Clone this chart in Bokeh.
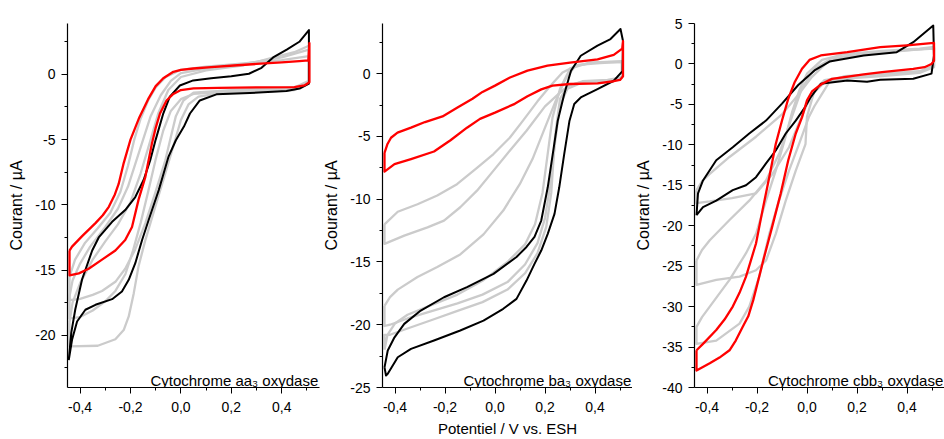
from bokeh.plotting import figure
from bokeh.layouts import row
from bokeh.models import Range1d, FixedTicker, CustomJSTickFormatter, Label
from bokeh.embed import file_html
from bokeh.resources import INLINE

FONT = "Liberation Sans"

# ---------------- shared x axis ----------------
x_ticks = [-0.4, -0.2, 0.0, 0.2, 0.4]
x_tick_labels = ["-0,4", "-0,2", "0,0", "0,2", "0,4"]
x_minor = [-0.3, -0.1, 0.1, 0.3, 0.5]
x_label = "Potentiel / V vs. ESH"
y_label = "Courant / µA"

# ---------------- panel 1 : aa3 ----------------
aa3_title = "Cytochrome aa₃ oxydase"
aa3_y_ticks = [-20, -15, -10, -5, 0]
aa3_y_labels = ["-20", "-15", "-10", "-5", "0"]
aa3_y_minor = [-22.5, -17.5, -12.5, -7.5, -2.5, 2.5]

aa3_red = [(-0.442, -13.5), (-0.432, -13.2), (-0.392, -12.4), (-0.339, -11.4), (-0.310, -10.8),
           (-0.286, -10.15), (-0.262, -9.2), (-0.247, -8.4), (-0.227, -6.8), (-0.200, -5.0),
           (-0.165, -3.3), (-0.130, -1.9), (-0.100, -0.9), (-0.070, -0.3), (-0.030, 0.2),
           (0.000, 0.35), (0.050, 0.45), (0.120, 0.55), (0.210, 0.68), (0.300, 0.8),
           (0.400, 0.92), (0.470, 1.02), (0.506, 1.07), (0.510, 2.4), (0.510, -0.6),
           (0.490, -0.85), (0.450, -0.97), (0.300, -1.0), (0.150, -1.03), (0.050, -1.08),
           (0.000, -1.2), (-0.030, -1.5), (-0.057, -2.0), (-0.083, -3.0), (-0.100, -4.1),
           (-0.115, -5.3), (-0.141, -7.85), (-0.168, -9.6), (-0.194, -11.7), (-0.221, -12.7),
           (-0.260, -13.5), (-0.313, -14.2), (-0.366, -14.9), (-0.405, -15.25), (-0.442, -15.4),
           (-0.442, -13.5)]

aa3_black = [(-0.445, -21.9), (-0.435, -19.8), (-0.419, -18.0), (-0.392, -15.7), (-0.352, -13.5),
             (-0.326, -12.5), (-0.273, -11.3), (-0.221, -10.4), (-0.181, -9.4), (-0.148, -8.1),
             (-0.122, -6.6), (-0.100, -5.0), (-0.070, -3.0), (-0.044, -1.7), (-0.004, -0.85),
             (0.049, -0.46), (0.120, -0.3), (0.200, -0.15), (0.270, 0.05), (0.320, 0.5),
             (0.366, 1.3), (0.420, 1.9), (0.470, 2.5), (0.508, 3.4), (0.508, -0.7),
             (0.471, -1.09), (0.419, -1.27), (0.273, -1.43), (0.141, -1.53), (0.075, -2.0),
             (0.036, -3.0), (0.012, -4.0), (-0.020, -5.05), (-0.049, -6.3), (-0.088, -8.87),
             (-0.128, -11.16), (-0.154, -12.69), (-0.181, -14.47), (-0.207, -15.75),
             (-0.234, -16.64), (-0.273, -17.23), (-0.339, -17.66), (-0.379, -18.04),
             (-0.412, -18.94), (-0.432, -20.34), (-0.445, -21.9)]

aa3_gray1 = [(-0.442, -15.5), (-0.420, -14.2), (-0.380, -12.9), (-0.330, -11.8), (-0.280, -10.6),
             (-0.240, -9.0), (-0.210, -7.0), (-0.185, -5.0), (-0.160, -3.4), (-0.130, -2.0),
             (-0.100, -1.0), (-0.060, -0.2), (0.000, 0.35), (0.100, 0.6), (0.250, 0.85),
             (0.400, 1.1), (0.508, 1.4), (0.508, -0.5), (0.450, -1.0), (0.200, -1.2),
             (0.050, -1.4), (0.010, -2.0), (-0.020, -3.2), (-0.040, -4.8), (-0.062, -6.6),
             (-0.102, -9.1), (-0.141, -11.4), (-0.181, -13.4), (-0.221, -14.9), (-0.260, -15.9),
             (-0.313, -16.6), (-0.350, -16.9), (-0.400, -17.2), (-0.442, -17.3), (-0.442, -15.5)]

aa3_gray2 = [(-0.442, -17.0), (-0.430, -15.8), (-0.400, -14.5), (-0.360, -13.2), (-0.300, -11.7),
             (-0.250, -10.3), (-0.210, -8.6), (-0.180, -6.8), (-0.150, -5.0), (-0.120, -3.2),
             (-0.080, -1.6), (-0.040, -0.5), (0.000, 0.1), (0.100, 0.45), (0.250, 0.8),
             (0.400, 1.3), (0.508, 1.9), (0.508, -0.6), (0.450, -1.1), (0.200, -1.3),
             (0.050, -1.5), (0.000, -1.9), (-0.040, -2.8), (-0.070, -4.3), (-0.100, -6.5),
             (-0.130, -9.0), (-0.160, -11.4), (-0.190, -13.5), (-0.220, -15.3), (-0.260, -16.6),
             (-0.300, -17.4), (-0.350, -18.1), (-0.400, -18.6), (-0.442, -18.7), (-0.442, -17.0)]

aa3_gray3 = [(-0.442, -19.0), (-0.430, -17.5), (-0.400, -16.0), (-0.350, -14.2), (-0.300, -12.8),
             (-0.250, -11.5), (-0.200, -9.8), (-0.160, -7.6), (-0.120, -5.0), (-0.090, -3.0),
             (-0.050, -1.2), (0.000, -0.2), (0.100, 0.3), (0.250, 0.7), (0.350, 1.2),
             (0.450, 1.7), (0.508, 2.2), (0.508, -0.7), (0.450, -1.2), (0.300, -1.35),
             (0.150, -1.45), (0.070, -1.7), (0.030, -2.3), (0.000, -3.5), (-0.023, -5.05),
             (-0.062, -7.6), (-0.102, -10.15), (-0.141, -12.7), (-0.168, -14.7), (-0.187, -16.77),
             (-0.207, -18.55), (-0.227, -19.6), (-0.260, -20.3), (-0.330, -20.8), (-0.442, -20.85),
             (-0.442, -19.0)]

# ---------------- panel 2 : ba3 ----------------
ba3_title = "Cytochrome ba₃ oxydase"
ba3_y_ticks = [-25, -20, -15, -10, -5, 0]
ba3_y_labels = ["-25", "-20", "-15", "-10", "-5", "0"]
ba3_y_minor = [-22.5, -17.5, -12.5, -7.5, -2.5, 2.5]

ba3_red = [(-0.442, -6.3), (-0.430, -5.6), (-0.416, -5.1), (-0.390, -4.7), (-0.336, -4.3),
           (-0.280, -3.85), (-0.210, -3.4), (-0.150, -2.7), (-0.090, -2.0), (-0.050, -1.45),
           (0.000, -0.95), (0.060, -0.3), (0.130, 0.25), (0.210, 0.64), (0.300, 0.88),
           (0.410, 1.15), (0.475, 1.5), (0.509, 2.0), (0.512, 2.6), (0.512, -0.2),
           (0.500, -0.5), (0.475, -0.6), (0.410, -0.77), (0.300, -0.82), (0.230, -0.95),
           (0.185, -1.25), (0.130, -1.8), (0.079, -2.4), (0.000, -3.1), (-0.060, -3.6),
           (-0.112, -4.3), (-0.178, -5.3), (-0.244, -6.2), (-0.336, -6.8), (-0.402, -7.2),
           (-0.442, -7.8), (-0.442, -6.3)]

ba3_black = [(-0.442, -23.4), (-0.429, -22.05), (-0.402, -21.0), (-0.363, -19.93), (-0.297, -18.87),
             (-0.204, -17.81), (-0.112, -17.0), (-0.006, -15.95), (0.086, -14.6), (0.126, -13.8),
             (0.158, -13.0), (0.185, -11.7), (0.211, -9.05), (0.231, -6.4), (0.251, -3.74),
             (0.277, -1.62), (0.304, 0.24), (0.343, 1.43), (0.410, 2.23), (0.462, 2.76),
             (0.502, 3.56), (0.512, 2.6), (0.510, 0.2), (0.475, -0.56), (0.410, -1.22),
             (0.343, -1.89), (0.317, -2.41), (0.298, -3.74), (0.277, -6.39), (0.257, -9.05),
             (0.238, -11.17), (0.211, -12.76), (0.185, -14.09), (0.158, -15.15), (0.126, -16.48),
             (0.086, -17.94), (0.033, -18.73), (-0.046, -19.67), (-0.139, -20.46), (-0.244, -21.26),
             (-0.336, -21.92), (-0.389, -22.59), (-0.429, -23.9), (-0.436, -24.04), (-0.442, -23.4)]

ba3_gray1 = [(-0.442, -12.0), (-0.389, -11.0), (-0.310, -10.4), (-0.231, -9.7), (-0.152, -8.8),
             (-0.072, -7.5), (-0.006, -6.4), (0.059, -5.1), (0.112, -3.74), (0.170, -2.2),
             (0.220, -1.0), (0.270, 0.1), (0.330, 0.7), (0.420, 0.85), (0.508, 0.95),
             (0.508, -0.3), (0.450, -0.55), (0.350, -0.65), (0.300, -0.9), (0.260, -1.5),
             (0.200, -2.6), (0.126, -4.54), (0.059, -6.13), (-0.006, -7.72), (-0.072, -9.32),
             (-0.139, -10.64), (-0.204, -11.7), (-0.270, -12.24), (-0.363, -12.9), (-0.442, -13.56),
             (-0.442, -12.0)]

ba3_gray2 = [(-0.442, -18.5), (-0.420, -17.8), (-0.389, -17.2), (-0.310, -16.2), (-0.231, -15.4),
             (-0.139, -14.4), (-0.046, -12.8), (0.033, -10.9), (0.099, -8.8), (0.150, -6.8),
             (0.200, -4.3), (0.240, -2.3), (0.280, -0.5), (0.320, 0.6), (0.400, 0.9),
             (0.508, 1.0), (0.508, -0.3), (0.450, -0.6), (0.350, -0.7), (0.290, -1.2),
             (0.260, -2.5), (0.240, -5.5), (0.220, -9.0), (0.200, -11.5), (0.170, -13.5),
             (0.120, -15.2), (0.050, -16.6), (-0.050, -17.6), (-0.150, -18.3), (-0.250, -18.9),
             (-0.350, -19.5), (-0.420, -20.0), (-0.442, -20.1), (-0.442, -18.5)]

ba3_gray3 = [(-0.442, -22.0), (-0.430, -20.8), (-0.400, -19.9), (-0.350, -19.2), (-0.250, -18.4),
             (-0.150, -17.6), (-0.050, -16.5), (0.050, -15.0), (0.120, -13.6), (0.160, -12.0),
             (0.190, -9.5), (0.210, -6.5), (0.230, -3.5), (0.260, -1.2), (0.300, 0.4),
             (0.380, 0.9), (0.508, 0.95), (0.508, -0.3), (0.450, -0.5), (0.350, -0.6),
             (0.290, -1.0), (0.260, -2.0), (0.240, -5.0), (0.225, -9.5), (0.205, -12.2),
             (0.170, -14.3), (0.120, -15.9), (0.050, -17.2), (-0.050, -18.2), (-0.150, -18.9),
             (-0.250, -19.6), (-0.350, -20.3), (-0.420, -20.8), (-0.442, -20.8), (-0.442, -22.0)]

# ---------------- panel 3 : cbb3 ----------------
cbb3_title = "Cytochrome cbb₃ oxydase"
cbb3_y_ticks = [-40, -35, -30, -25, -20, -15, -10, -5, 0, 5]
cbb3_y_labels = ["-40", "-35", "-30", "-25", "-20", "-15", "-10", "-5", "0", "5"]
cbb3_y_minor = [-37.5, -32.5, -27.5, -22.5, -17.5, -12.5, -7.5, -2.5, 2.5]

cbb3_red = [(-0.442, -35.4), (-0.416, -34.6), (-0.363, -32.9), (-0.330, -31.6), (-0.297, -30.0),
            (-0.270, -28.3), (-0.244, -26.3), (-0.204, -22.2), (-0.178, -18.1), (-0.151, -14.0),
            (-0.125, -9.9), (-0.100, -7.0), (-0.075, -4.3), (-0.050, -2.3), (-0.020, -0.6),
            (0.010, 0.5), (0.055, 1.05), (0.161, 1.46), (0.293, 2.07), (0.400, 2.3),
            (0.508, 2.6), (0.508, 0.4), (0.498, 0.0), (0.470, -0.4), (0.425, -0.6),
            (0.300, -1.0), (0.227, -1.3), (0.100, -1.85), (0.060, -2.45), (0.020, -3.4),
            (0.000, -4.5), (-0.020, -6.6), (-0.045, -8.6), (-0.075, -11.9), (-0.105, -16.0),
            (-0.140, -20.2), (-0.175, -24.3), (-0.215, -29.2), (-0.235, -31.2), (-0.257, -32.5),
            (-0.285, -34.2), (-0.310, -35.4), (-0.350, -36.3), (-0.389, -37.0), (-0.442, -37.9),
            (-0.442, -35.4)]

cbb3_black = [(-0.442, -18.7), (-0.436, -16.0), (-0.416, -14.4), (-0.363, -11.9), (-0.297, -10.3),
              (-0.231, -8.6), (-0.164, -7.0), (-0.100, -4.9), (-0.035, -2.6), (0.030, -0.8),
              (0.090, 0.3), (0.227, 1.05), (0.359, 1.46), (0.425, 2.69), (0.505, 4.75),
              (0.508, 1.0), (0.498, -1.2), (0.425, -1.83), (0.293, -1.95), (0.240, -2.2),
              (0.161, -2.04), (0.055, -2.45), (0.015, -4.1), (-0.011, -5.5), (-0.045, -7.0),
              (-0.085, -8.6), (-0.125, -10.7), (-0.164, -12.3), (-0.204, -14.0), (-0.244, -15.0),
              (-0.297, -15.6), (-0.363, -16.9), (-0.416, -17.7), (-0.442, -18.7)]

cbb3_gray1 = [(-0.442, -15.6), (-0.420, -14.5), (-0.389, -13.6), (-0.310, -11.5), (-0.204, -9.0),
              (-0.099, -6.2), (-0.032, -3.7), (0.020, -1.6), (0.080, 0.2), (0.150, 0.9),
              (0.300, 1.4), (0.450, 1.8), (0.508, 2.0), (0.508, -0.4), (0.450, -1.1),
              (0.300, -1.5), (0.150, -1.8), (0.070, -2.3), (0.030, -3.5), (0.000, -5.0),
              (-0.035, -7.5), (-0.072, -10.3), (-0.138, -13.6), (-0.204, -16.0), (-0.300, -16.6),
              (-0.389, -17.0), (-0.442, -17.2), (-0.442, -15.6)]

cbb3_gray2 = [(-0.442, -24.3), (-0.420, -23.0), (-0.389, -21.8), (-0.310, -19.3), (-0.231, -16.9),
              (-0.164, -14.4), (-0.110, -11.0), (-0.060, -6.5), (-0.020, -3.0), (0.030, -0.6),
              (0.100, 0.7), (0.250, 1.3), (0.400, 1.7), (0.508, 1.9), (0.508, -0.3),
              (0.450, -1.0), (0.300, -1.3), (0.150, -1.6), (0.070, -2.0), (0.030, -3.3),
              (0.000, -6.5), (-0.006, -9.9), (-0.045, -13.2), (-0.085, -16.9), (-0.125, -21.0),
              (-0.164, -24.3), (-0.204, -25.5), (-0.270, -26.3), (-0.363, -26.7), (-0.442, -27.3),
              (-0.442, -24.3)]

cbb3_gray3 = [(-0.442, -32.5), (-0.420, -31.3), (-0.389, -30.0), (-0.310, -26.7), (-0.244, -23.4),
              (-0.204, -21.0), (-0.164, -16.9), (-0.125, -13.2), (-0.090, -9.5), (-0.060, -6.0),
              (-0.030, -3.2), (0.000, -1.2), (0.060, 0.5), (0.150, 1.2), (0.300, 1.6),
              (0.450, 1.9), (0.508, 2.1), (0.508, -0.2), (0.450, -0.9), (0.300, -1.2),
              (0.150, -1.5), (0.090, -2.2), (0.060, -3.7), (0.030, -5.2), (0.007, -6.6),
              (-0.032, -9.9), (-0.072, -13.2), (-0.112, -16.9), (-0.151, -21.0), (-0.191, -26.3),
              (-0.231, -30.0), (-0.270, -32.1), (-0.363, -34.2), (-0.442, -34.6), (-0.442, -32.5)]


def tick_formatter(tvals, tlabels):
    return CustomJSTickFormatter(args=dict(tvals=tvals, tlabels=tlabels), code="""
        let best = 0, d = Infinity;
        for (let k = 0; k < tvals.length; k++) {
            const dd = Math.abs(tvals[k] - tick);
            if (dd < d) { d = dd; best = k; }
        }
        return tlabels[best];
    """)


def make_panel(grays, black, red, y_start, y_end, y_ticks, y_minor, y_labels, title,
               width, border_left, border_right, show_xlabel=False):
    p = figure(width=width, height=439, output_backend="svg", toolbar_location=None,
               x_range=Range1d(-0.45, 0.55), y_range=Range1d(y_start, y_end),
               min_border_left=border_left, min_border_right=border_right,
               min_border_top=23, min_border_bottom=51)
    p.grid.visible = False
    p.outline_line_color = None
    p.background_fill_color = "white"
    p.border_fill_color = "white"

    for c in grays:
        e, i = zip(*c)
        p.line(list(e), list(i), line_color="#cbcbcb", line_width=2.3, line_join="round")
    e, i = zip(*black)
    p.line(list(e), list(i), line_color="#000000", line_width=2.0, line_join="round")
    e, i = zip(*red)
    p.line(list(e), list(i), line_color="#ff0000", line_width=2.3, line_join="round")

    p.xaxis.ticker = FixedTicker(ticks=x_ticks, minor_ticks=x_minor)
    p.xaxis.formatter = tick_formatter(x_ticks, x_tick_labels)
    p.yaxis.ticker = FixedTicker(ticks=y_ticks, minor_ticks=y_minor)
    p.yaxis.formatter = tick_formatter(y_ticks, y_labels)

    for ax in (p.xaxis[0], p.yaxis[0]):
        ax.axis_line_color = "#000000"
        ax.axis_line_width = 1.2
        ax.major_tick_line_color = "#000000"
        ax.minor_tick_line_color = "#000000"
        ax.major_tick_out = 6
        ax.major_tick_in = 0
        ax.minor_tick_out = 3
        ax.minor_tick_in = 0
        ax.major_label_text_font = FONT
        ax.major_label_text_font_size = "14px"
        ax.major_label_text_color = "#000000"
        ax.axis_label_text_font = FONT
        ax.axis_label_text_font_style = "normal"
        ax.axis_label_text_color = "#000000"
    p.xaxis.axis_label_text_font_size = "15px"
    p.yaxis.axis_label_text_font_size = "16px"
    p.yaxis.major_label_standoff = 6
    p.yaxis.axis_label_standoff = 7
    p.xaxis.major_label_standoff = 8
    p.yaxis.axis_label = y_label
    if show_xlabel:
        p.xaxis.axis_label = x_label
        p.xaxis.axis_label_standoff = 5

    p.add_layout(Label(x=0.545, y=y_start + (y_end - y_start) * 0.02, text=title,
                       text_align="right", text_baseline="alphabetic",
                       text_font=FONT, text_font_size="15px", text_color="#000000"))
    return p


p1 = make_panel([aa3_gray1, aa3_gray2, aa3_gray3], aa3_black, aa3_red, -24, 3.9,
                aa3_y_ticks, aa3_y_minor, aa3_y_labels, aa3_title, 320, 67, 1)
p2 = make_panel([ba3_gray1, ba3_gray2, ba3_gray3], ba3_black, ba3_red, -25, 4,
                ba3_y_ticks, ba3_y_minor, ba3_y_labels, ba3_title, 312, 60, 0, show_xlabel=True)
p3 = make_panel([cbb3_gray1, cbb3_gray2, cbb3_gray3], cbb3_black, cbb3_red, -40, 5,
                cbb3_y_ticks, cbb3_y_minor, cbb3_y_labels, cbb3_title, 312, 60, 0)

layout = row(p1, p2, p3)
open("out.html", "w").write(file_html(layout, INLINE))
